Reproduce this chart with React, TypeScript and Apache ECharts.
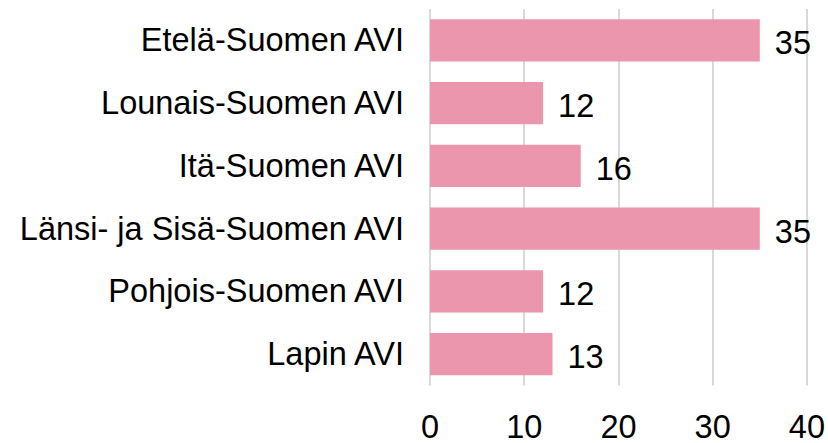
import React, { useEffect, useRef } from "react";
import * as echarts from "echarts";

const categories = [
  "Etelä-Suomen AVI",
  "Lounais-Suomen AVI",
  "Itä-Suomen AVI",
  "Länsi- ja Sisä-Suomen AVI",
  "Pohjois-Suomen AVI",
  "Lapin AVI",
];
const values = [35, 12, 16, 35, 12, 13];
const xTicks = { min: 0, max: 40, interval: 10 };

export default function App() {
  const ref = useRef<HTMLDivElement>(null);
  useEffect(() => {
    document.body.style.margin = "0";
    const chart = echarts.init(ref.current!, null, { renderer: "svg" });
    const font = "'Liberation Sans', Arial, sans-serif";
    chart.setOption({
      animation: false,
      backgroundColor: "#ffffff",
      grid: { left: 430, right: 20, top: 9, bottom: 51, containLabel: false },
      xAxis: {
        type: "value",
        min: xTicks.min,
        max: xTicks.max,
        interval: xTicks.interval,
        axisLine: { show: false },
        axisTick: { show: false },
        splitLine: { show: true, lineStyle: { color: "#d9d9d9", width: 2 } },
        axisLabel: {
          color: "#000",
          fontSize: 32.5,
          lineHeight: 18,
          fontFamily: font,
          margin: 32,
        },
      },
      yAxis: {
        type: "category",
        data: categories,
        inverse: true,
        axisLine: { show: false },
        axisTick: { show: false },
        splitLine: { show: false },
        axisLabel: { color: "#000", fontSize: 32.5, fontFamily: font, margin: 26 },
      },
      series: [
        {
          type: "bar",
          data: values,
          barCategoryGap: "33%",
          itemStyle: { color: "#EC96AE" },
          label: {
            show: true,
            position: "right",
            distance: 15,
            offset: [0, 3],
            color: "#000",
            fontSize: 32.5,
            fontFamily: font,
          },
        },
      ],
    });
    return () => chart.dispose();
  }, []);
  return <div ref={ref} style={{ width: 828, height: 443 }} />;
}
